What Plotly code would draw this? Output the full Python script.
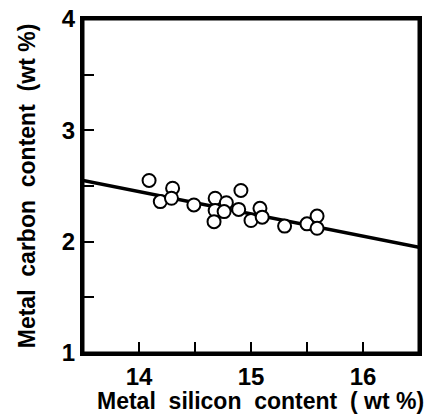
import plotly.graph_objects as go

# Measured data points
silicon = [14.09, 14.19, 14.30, 14.29, 14.49, 14.68, 14.68, 14.67, 14.78, 14.76,
           14.91, 14.89, 15.00, 15.08, 15.10, 15.30, 15.50, 15.59, 15.59]
carbon = [2.55, 2.36, 2.48, 2.39, 2.33, 2.39, 2.28, 2.18, 2.35, 2.27,
          2.46, 2.29, 2.19, 2.30, 2.22, 2.14, 2.16, 2.23, 2.12]

# Regression line end points
fit_x = [13.5, 16.5]
fit_y = [2.55, 1.95]

x_ticks = [14, 15, 16]
y_ticks = [1, 2, 3, 4]

font_family = "Liberation Sans"

fig = go.Figure()
fig.add_trace(go.Scatter(x=fit_x, y=fit_y, mode="lines",
                         line=dict(color="black", width=3.5), showlegend=False))
fig.add_trace(go.Scatter(x=silicon, y=carbon, mode="markers",
                         marker=dict(symbol="circle", size=13, color="white",
                                     line=dict(color="black", width=2)),
                         showlegend=False))

# frame around the plotting area
fig.add_shape(type="rect", xref="paper", yref="paper", x0=0, y0=0, x1=1, y1=1,
              line=dict(color="black", width=3), layer="above")

axis_common = dict(showline=True, linecolor="black", linewidth=3, mirror=True,
                   ticks="inside", ticklen=11, tickwidth=2, tickcolor="black",
                   showgrid=False, zeroline=False, automargin=False,
                   ticklabeloverflow="allow",
                   tickfont=dict(family=font_family, size=24, color="black", weight="bold"))

fig.update_xaxes(range=[13.5, 16.5], tickvals=x_ticks, ticktext=[str(v) for v in x_ticks],
                 minor=dict(tickvals=[14.5, 15.5], ticks="inside", ticklen=11,
                            tickwidth=2, tickcolor="black"),
                 title=dict(text="<b>&nbsp;&nbsp;&nbsp;Metal  silicon  content  ( wt %)</b>",
                            font=dict(family=font_family, size=23, color="black"),
                            standoff=6),
                 **axis_common)
fig.update_yaxes(range=[1, 4], tickvals=y_ticks, ticktext=[str(v) for v in y_ticks],
                 minor=dict(tickvals=[1.5, 2.5, 3.5], ticks="inside", ticklen=11,
                            tickwidth=2, tickcolor="black"),
                 title=dict(text="<b>Metal  carbon  content  (wt %)</b>",
                            font=dict(family=font_family, size=23, color="black"),
                            standoff=20),
                 **axis_common)

fig.update_layout(width=432, height=414,
                  margin=dict(l=83, r=13, t=19, b=61),
                  paper_bgcolor="white", plot_bgcolor="white")

fig.write_html("out.html", config={"displayModeBar": False},
               post_script="document.body.style.margin='0';document.body.style.overflow='hidden';")
